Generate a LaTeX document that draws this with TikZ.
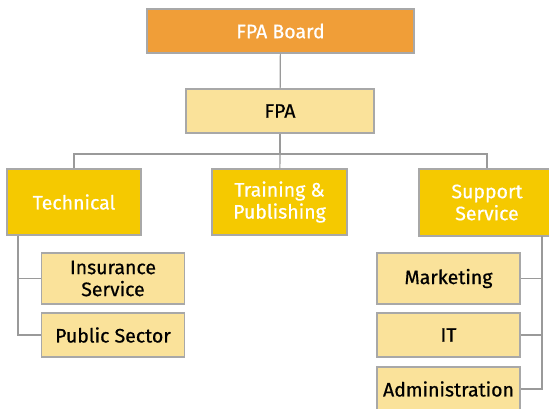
\documentclass[tikz,border=0pt]{standalone}
\usepackage{fontspec}
\setmainfont[FakeBold=0.6]{Fira Sans}
\usepackage{tikz}
\usetikzlibrary{calc}
\definecolor{boardorange}{HTML}{F09E38}
\definecolor{deptyellow}{HTML}{F5C900}
\definecolor{unitcream}{HTML}{FAE29A}
\definecolor{boxgrey}{HTML}{A8A8A8}
\definecolor{linkgrey}{HTML}{9A9A9A}

\begin{document}
\begin{tikzpicture}[x=1pt, y=-1pt,
        box/.style={draw=boxgrey, line width=1.4pt, align=center, inner sep=0pt,
            font=\fontsize{19.5}{22}\selectfont},
        boardbox/.style={box, fill=boardorange, text=white},
        deptbox/.style={box, fill=deptyellow, text=white},
        unitbox/.style={box, fill=unitcream, text=black},
        link/.style={draw=linkgrey, line width=1.2pt}]
        \useasboundingbox (0,0) rectangle (549,408);
        \node[boardbox, minimum width=267pt, minimum height=44pt] (board) at (280.5,31) {FPA Board};
        \node[unitbox, minimum width=188pt, minimum height=44pt] (fpa) at (280,111) {FPA};
        \node[deptbox, minimum width=134pt, minimum height=66pt] (tech) at (74,202) {Technical};
        \node[deptbox, minimum width=135pt, minimum height=66pt] (train) at (279.5,202) {Training \&\\Publishing};
        \node[deptbox, minimum width=136pt, minimum height=67pt] (supp) at (487,202.5) {Support\\Service};
        \node[unitbox, minimum width=143pt, minimum height=51pt] (ins) at (113,278.5) {Insurance\\Service};
        \node[unitbox, minimum width=143pt, minimum height=44pt] (pub) at (113,335) {Public Sector};
        \node[unitbox, minimum width=143pt, minimum height=51pt] (mkt) at (448.5,278.5) {Marketing};
        \node[unitbox, minimum width=143pt, minimum height=44pt] (it) at (448.5,335) {IT};
        \node[unitbox, minimum width=143pt, minimum height=44pt] (adm) at (448.5,389) {Administration};
        \coordinate (bus) at (280,154);
        \coordinate (techbus) at (18,235.5);
        \coordinate (suppbus) at (542,236);
        \draw[link] (board) -- (fpa);
        \draw[link] (fpa) -- (bus);
        \draw[link] (tech.north) |- (bus) -| (supp.north);
        \draw[link] (bus) -- (train);
        \foreach \u in {ins,pub} {
            \draw[link] (techbus) |- (\u.west);
        }
        \foreach \u in {mkt,it,adm} {
            \draw[link] (suppbus) |- (\u.east);
        }
    \end{tikzpicture}
\end{document}
